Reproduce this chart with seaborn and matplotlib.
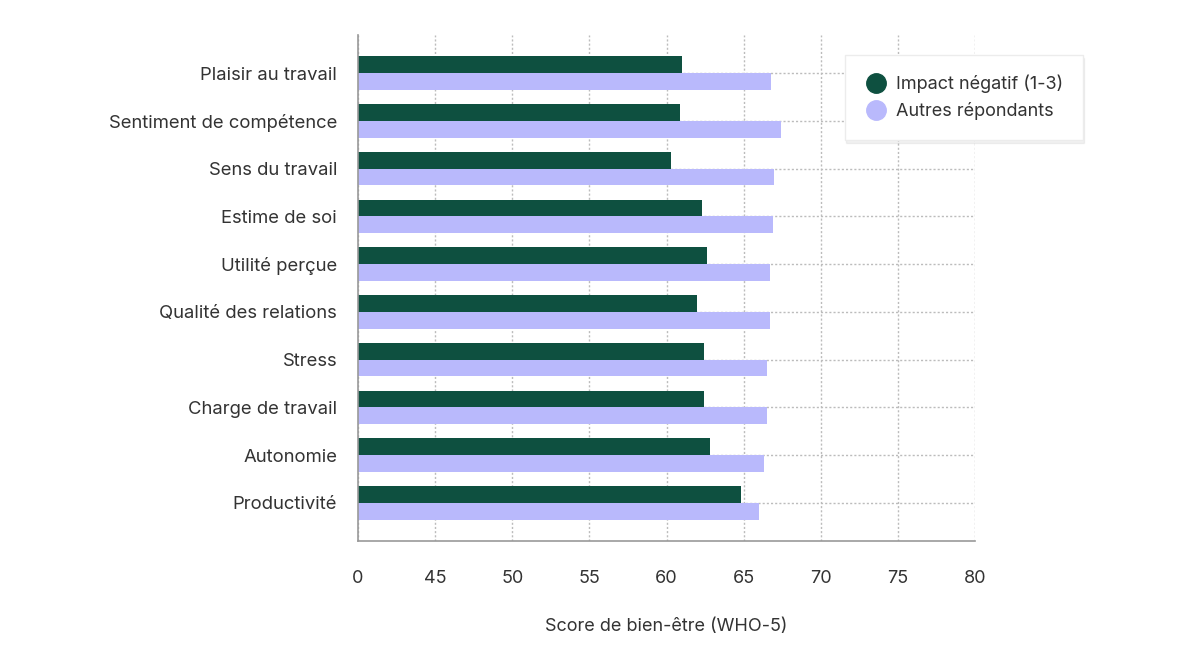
import pandas as pd
import matplotlib.pyplot as plt
import seaborn as sns
from matplotlib.lines import Line2D

categories = ['Plaisir au travail', 'Sentiment de compétence', 'Sens du travail',
              'Estime de soi', 'Utilité perçue', 'Qualité des relations', 'Stress',
              'Charge de travail', 'Autonomie', 'Productivité']
impact_negatif = [61.0, 60.9, 60.3, 62.3, 62.6, 62.0, 62.4, 62.4, 62.8, 64.8]
autres = [66.8, 67.4, 67.0, 66.9, 66.7, 66.7, 66.5, 66.5, 66.3, 66.0]
series = ['Impact négatif (1-3)', 'Autres répondants']
tick_values = [40, 45, 50, 55, 60, 65, 70, 75, 80]
tick_labels = ['0', '45', '50', '55', '60', '65', '70', '75', '80']

df = pd.DataFrame({
    'categorie': categories * 2,
    'score': impact_negatif + autres,
    'groupe': [series[0]] * len(categories) + [series[1]] * len(categories),
})

sns.set_theme(style='white')
plt.rcParams['font.family'] = ['Inter', 'DejaVu Sans']

green = '#0E5040'
purple = '#B9B9FC'

fig = plt.figure(figsize=(11.85, 6.5), dpi=100)
ax = fig.add_axes([358 / 1185, 109 / 650, 617 / 1185, 506 / 650])

sns.barplot(data=df, y='categorie', x='score', hue='groupe', order=categories,
            hue_order=series, palette=[green, purple], saturation=1, width=0.7,
            orient='h', legend=False, linewidth=0, ax=ax, zorder=2)

ax.set_xlim(40, 80)
ax.set_ylim(9.8, -0.8)
ax.set_xticks(tick_values)
ax.set_xticklabels(tick_labels)
ax.grid(True, axis='both', linestyle=(0, (1.5, 1.5)), color='#bcbcbc', linewidth=1, zorder=0)
ax.set_axisbelow(True)

for s in ['top', 'right']:
    ax.spines[s].set_visible(False)
for s in ['left', 'bottom']:
    ax.spines[s].set_color('#999999')
    ax.spines[s].set_linewidth(1.2)
    ax.spines[s].set_zorder(5)

ax.tick_params(axis='x', length=0, pad=21, labelsize=13, colors='#333333')
ax.tick_params(axis='y', length=0, pad=15, labelsize=13.3, colors='#333333')
ax.set_ylabel('')
ax.set_xlabel('Score de bien-être (WHO-5)', fontsize=13, color='#333333', labelpad=22)

handles = [Line2D([0], [0], marker='o', linestyle='', markersize=14, color=c) for c in [green, purple]]
leg = fig.legend(handles, series, loc='upper left', bbox_to_anchor=(836 / 1185, 1 - 46 / 650),
                 frameon=True, fancybox=False, shadow={'color': '#000000', 'alpha': 0.05, 'ox': 1, 'oy': -2},
                 fontsize=13, handletextpad=0.5, labelspacing=0.5, borderpad=1.1, handlelength=1.2)
leg.get_frame().set_edgecolor('#ececec')
leg.get_frame().set_linewidth(1)
for t in leg.get_texts():
    t.set_color('#333333')

fig.savefig('out.png', dpi=100, facecolor='white')
